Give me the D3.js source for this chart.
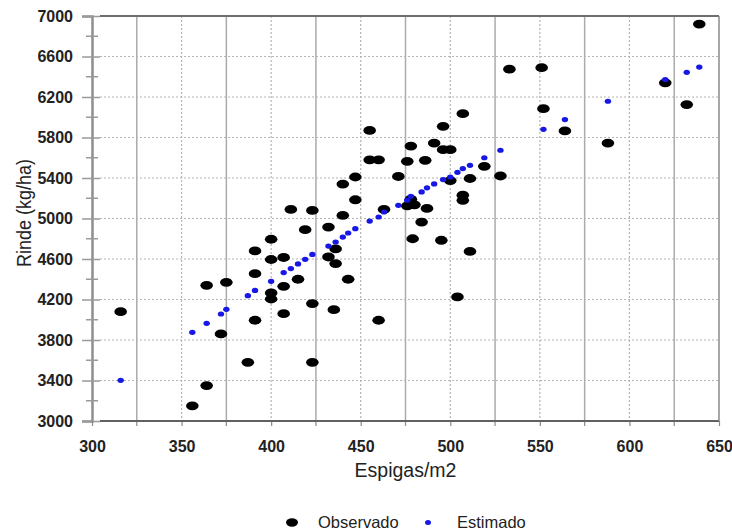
<!DOCTYPE html>
<html>
<head>
<meta charset="utf-8">
<script src="https://cdn.jsdelivr.net/npm/d3@7"></script>
<style>
  body { margin: 0; background: #fff; }
  svg { display: block; font-family: "Liberation Sans", Arial, sans-serif; }
</style>
</head>
<body>
<svg id="chart" width="732" height="531"></svg>
<script>
// Tick values
const xTicks = [300, 350, 400, 450, 500, 550, 600, 650];
const xMinorTicks = [325, 375, 425, 475, 525, 575, 625];
const yTicks = [3000, 3400, 3800, 4200, 4600, 5000, 5400, 5800, 6200, 6600, 7000];
const yMinorTicks = [3200, 3600, 4000, 4400, 4800, 5200, 5600, 6000, 6400, 6800];

// Observed yield (kg/ha) against spikes per m2
const obsX = [316, 356, 364, 364, 375, 372, 387, 391, 391, 391,
              400, 400, 400, 400, 407, 407, 407, 415, 411, 419,
              423, 423, 435, 460, 504, 443, 432, 436, 511, 455,
              455, 460, 447, 440, 447, 423, 440, 432, 436, 478,
              476, 486, 471, 463, 478, 476, 480, 487, 484, 479,
              507, 496, 491, 496, 500, 519, 528, 511, 500, 507,
              507, 495, 552, 564, 639, 620, 632, 588, 533, 551];
const obsY = [4080, 3150, 3350, 4340, 4370, 3860, 3580, 3995, 4455, 4680,
              4795, 4595, 4265, 4205, 4615, 4330, 4060, 4400, 5090, 4890,
              4160, 3580, 4100, 3995, 4225, 4400, 4620, 4555, 4675, 5870,
              5580, 5580, 5410, 5340, 5185, 5080, 5030, 4915, 4700, 5715,
              5565, 5575, 5415, 5090, 5190, 5125, 5135, 5100, 4965, 4800,
              6035, 5910, 5745, 5680, 5680, 5515, 5420, 5395, 5375, 5230,
              5180, 4785, 6085, 5865, 6920, 6340, 6125, 5745, 6475, 6490];

// Estimated yield from the fitted model
const estX = [316, 356, 364, 372, 375, 387, 391, 400, 407, 411,
              415, 419, 423, 432, 436, 440, 443, 447, 455, 460,
              463, 471, 476, 478, 484, 487, 491, 496, 500, 504,
              507, 511, 519, 528, 552, 564, 588, 620, 632, 639];
const estY = [3402, 3876, 3965, 4057, 4103, 4238, 4290, 4380, 4466, 4505,
              4551, 4597, 4645, 4728, 4768, 4817, 4857, 4900, 4975, 5015,
              5064, 5130, 5180, 5220, 5262, 5303, 5341, 5384, 5410, 5456,
              5493, 5525, 5600, 5674, 5881, 5977, 6158, 6372, 6444, 6496];

const seriesNames = ["Observado", "Estimado"];
const xTitle = "Espigas/m2";
const yTitle = "Rinde (kg/ha)";

const svg = d3.select("#chart");

const x = d3.scaleLinear().domain([300, 650]).range([92, 719]);
const y = d3.scaleLinear().domain([3000, 7000]).range([421, 16]);

// Grid: solid lines at the half steps, dotted at the labelled steps
const grid = svg.append("g");
grid.selectAll("line.vminor").data(xMinorTicks).join("line")
  .attr("x1", d => x(d)).attr("x2", d => x(d))
  .attr("y1", y(7000)).attr("y2", y(3000))
  .attr("stroke", "#ababab").attr("stroke-width", 1.5);
grid.selectAll("line.vmajor").data(xTicks.slice(1, -1)).join("line")
  .attr("x1", d => x(d)).attr("x2", d => x(d))
  .attr("y1", y(7000)).attr("y2", y(3000))
  .attr("stroke", "#b4b4b4").attr("stroke-width", 1.2)
  .attr("stroke-dasharray", "2,2");
grid.selectAll("line.hmajor").data(yTicks.slice(1, -1)).join("line")
  .attr("x1", 100).attr("x2", x(650))
  .attr("y1", d => y(d)).attr("y2", d => y(d))
  .attr("stroke", "#b4b4b4").attr("stroke-width", 1.2)
  .attr("stroke-dasharray", "2,2");

// Y axis
const yAxis = svg.append("g")
  .attr("transform", `translate(${x(300)},0)`)
  .call(d3.axisLeft(y).tickValues(yTicks).tickSize(10).tickPadding(9)
    .tickFormat(d3.format("d")));
yAxis.select(".domain").attr("stroke", "#8e8e8e").attr("stroke-width", 2.5);
yAxis.selectAll(".tick line").attr("stroke", "#9a9a9a").attr("stroke-width", 1.5)
  .attr("x2", 8).attr("x1", -10);
yAxis.selectAll(".tick text")
  .attr("font-size", 16).attr("font-weight", "bold").attr("fill", "#222")
  .attr("font-family", "'Liberation Sans', Arial, sans-serif");

// Minor y ticks crossing the axis
svg.append("g").selectAll("line").data(yMinorTicks).join("line")
  .attr("x1", x(300) - 6).attr("x2", x(300) + 6)
  .attr("y1", d => y(d)).attr("y2", d => y(d))
  .attr("stroke", "#9a9a9a").attr("stroke-width", 1.5);

// X axis
const xAxis = svg.append("g")
  .attr("transform", `translate(0,${y(3000)})`)
  .call(d3.axisBottom(x).tickValues(xTicks).tickSize(5).tickPadding(15)
    .tickFormat(d3.format("d")));
xAxis.select(".domain").remove();
xAxis.selectAll(".tick line").attr("stroke", "#8a8a8a").attr("stroke-width", 1.2);
xAxis.selectAll(".tick text")
  .attr("font-size", 16).attr("font-weight", "bold").attr("fill", "#222")
  .attr("font-family", "'Liberation Sans', Arial, sans-serif");
svg.append("g").selectAll("line").data(xMinorTicks).join("line")
  .attr("x1", d => x(d)).attr("x2", d => x(d))
  .attr("y1", y(3000)).attr("y2", y(3000) + 5)
  .attr("stroke", "#8a8a8a").attr("stroke-width", 1.2);

// Frame: bottom, top and right
const frame = svg.append("g").attr("fill", "none");
frame.append("line").attr("x1", 100).attr("x2", x(650))
  .attr("y1", y(3000)).attr("y2", y(3000))
  .attr("stroke", "#616161").attr("stroke-width", 2);
frame.append("line").attr("x1", 100).attr("x2", x(650))
  .attr("y1", y(7000)).attr("y2", y(7000))
  .attr("stroke", "#6e6e6e").attr("stroke-width", 2);
frame.append("line").attr("x1", x(650)).attr("x2", x(650))
  .attr("y1", y(7000)).attr("y2", y(3000))
  .attr("stroke", "#8a8a8a").attr("stroke-width", 1.5);

// Observed points
svg.append("g").selectAll("ellipse").data(obsX.map((v, i) => [v, obsY[i]])).join("ellipse")
  .attr("cx", d => x(d[0])).attr("cy", d => y(d[1]))
  .attr("rx", 6.3).attr("ry", 4.4)
  .attr("fill", "#000");

// Estimated points
svg.append("g").selectAll("ellipse").data(estX.map((v, i) => [v, estY[i]])).join("ellipse")
  .attr("cx", d => x(d[0])).attr("cy", d => y(d[1]))
  .attr("rx", 3.2).attr("ry", 2.6)
  .attr("fill", "#1717e6");

// Axis titles
svg.append("text")
  .attr("x", (x(300) + x(650)) / 2).attr("y", 477)
  .attr("text-anchor", "middle").attr("font-size", 19.5).attr("fill", "#222")
  .text(xTitle);
svg.append("text")
  .attr("transform", "translate(31,213) rotate(-90)")
  .attr("text-anchor", "middle").attr("font-size", 21).attr("fill", "#222")
  .attr("textLength", 108).attr("lengthAdjust", "spacingAndGlyphs")
  .text(yTitle);

// Legend
const legend = svg.append("g");
legend.append("ellipse").attr("cx", 292).attr("cy", 522.5).attr("rx", 6).attr("ry", 4.2).attr("fill", "#000");
legend.append("text").attr("x", 318).attr("y", 527.5).attr("font-size", 16.5).attr("fill", "#222").text(seriesNames[0]);
legend.append("ellipse").attr("cx", 428).attr("cy", 522.5).attr("rx", 3).attr("ry", 2.5).attr("fill", "#1717e6");
legend.append("text").attr("x", 457).attr("y", 527.5).attr("font-size", 16.5).attr("fill", "#222").text(seriesNames[1]);
</script>
</body>
</html>
